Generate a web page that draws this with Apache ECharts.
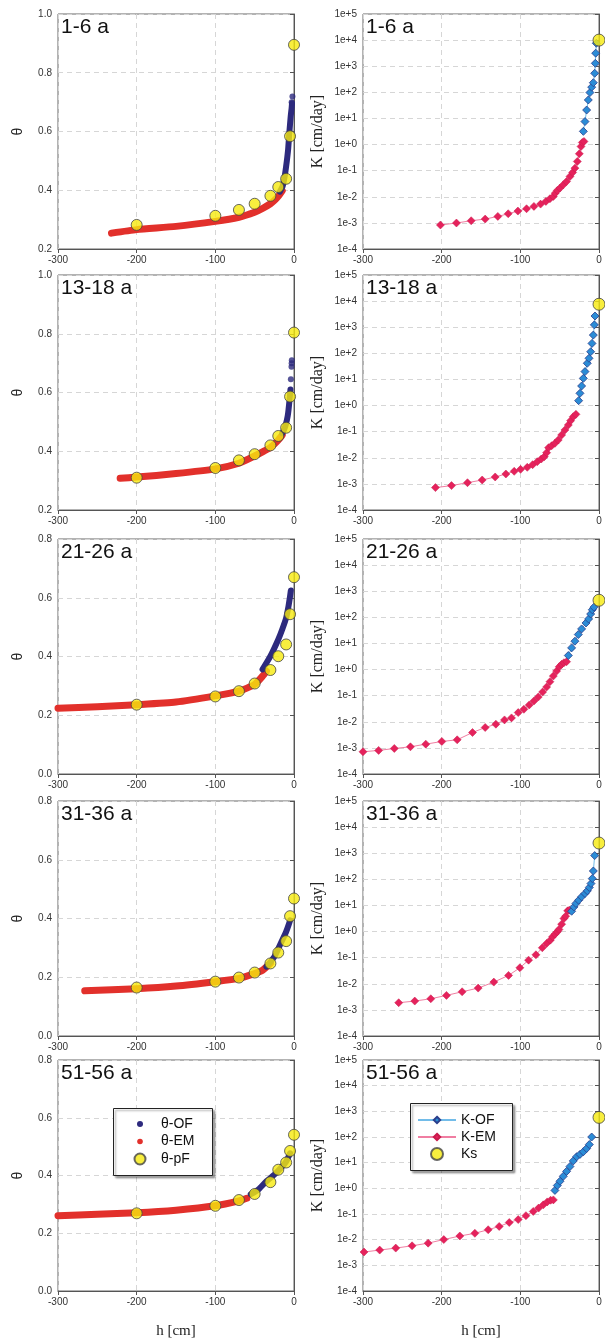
<!DOCTYPE html>
<html>
<head>
<meta charset="utf-8">
<script src="https://cdn.jsdelivr.net/npm/echarts@6/dist/echarts.min.js"></script>
<style>
html,body{margin:0;padding:0;background:#fff;}
#chart{width:605px;height:1340px;}
</style>
</head>
<body>
<div id="chart"></div>
<script>
// ---------- DATA ----------
const panelTitles = ['1-6 a', '13-18 a', '21-26 a', '31-36 a', '51-56 a'];
const xTicks = [-300, -200, -100, 0];
const thetaMin = [0.2, 0.2, 0.0, 0.0, 0.0];
const thetaMax = [1.0, 1.0, 0.8, 0.8, 0.8];

// pressure heads of pF measurements (cm)
const hPF = [-200, -100, -70, -50, -30, -20, -10, -5, 0];

// Panel 1: 1-6 a
const thPF_1 = [0.282, 0.313, 0.333, 0.354, 0.381, 0.411, 0.439, 0.584, 0.895];
const hEM_1 = [-232, -200, -150, -100, -70, -50, -40, -30, -25, -20, -15];
const thEM_1 = [0.254, 0.266, 0.277, 0.294, 0.308, 0.325, 0.338, 0.354, 0.365, 0.379, 0.398];
const hOF_1 = [-18, -14.5, -12, -10, -7.5, -6, -4.2, -3, -2.5];
const thOF_1 = [0.395, 0.413, 0.445, 0.481, 0.538, 0.594, 0.651, 0.680, 0.696];
const hOFdots_1 = [-3, -2];
const thOFdots_1 = [0.700, 0.719];

// Panel 2: 13-18 a
const thPF_2 = [0.310, 0.343, 0.369, 0.390, 0.420, 0.452, 0.480, 0.586, 0.804];
const hEM_2 = [-221, -200, -150, -100, -70, -50, -40, -30, -20, -15];
const thEM_2 = [0.308, 0.312, 0.324, 0.340, 0.359, 0.384, 0.398, 0.413, 0.438, 0.455];
const hOF_2 = [-15, -12, -10, -8, -7, -5.5, -4.5];
const thOF_2 = [0.461, 0.478, 0.495, 0.520, 0.540, 0.580, 0.610];
const hOFdots_2 = [-4, -3.2, -3, -2.8];
const thOFdots_2 = [0.645, 0.688, 0.700, 0.710];

// Panel 3: 21-26 a
const thPF_3 = [0.236, 0.264, 0.282, 0.308, 0.354, 0.401, 0.441, 0.544, 0.670];
const hEM_3 = [-300, -250, -200, -150, -100, -70, -50, -40, -35];
const thEM_3 = [0.224, 0.229, 0.236, 0.245, 0.266, 0.282, 0.305, 0.333, 0.350];
const hOF_3 = [-40, -30, -20, -15, -10, -7, -5, -4];
const thOF_3 = [0.356, 0.401, 0.458, 0.492, 0.531, 0.571, 0.605, 0.625];

// Panel 4: 31-36 a
const thPF_4 = [0.165, 0.185, 0.199, 0.216, 0.247, 0.284, 0.323, 0.408, 0.468];
const hEM_4 = [-266, -200, -150, -100, -70, -50, -40, -30];
const thEM_4 = [0.154, 0.161, 0.170, 0.185, 0.196, 0.213, 0.224, 0.247];
const hOF_4 = [-35, -25, -15, -10, -7, -5];
const thOF_4 = [0.236, 0.270, 0.326, 0.355, 0.377, 0.394];

// Panel 5: 51-56 a
const thPF_5 = [0.269, 0.295, 0.315, 0.336, 0.377, 0.420, 0.445, 0.485, 0.541];
const hEM_5 = [-300, -250, -200, -150, -100, -70, -60];
const thEM_5 = [0.261, 0.266, 0.271, 0.280, 0.295, 0.312, 0.321];
const hOF_5 = [-55, -45, -35, -25, -15, -10, -7, -5];
const thOF_5 = [0.335, 0.352, 0.380, 0.403, 0.431, 0.448, 0.465, 0.477];

// Conductivity K (cm/day)
const hKEM_1 = [-201.6, -181.2, -162.5, -144.7, -128.6, -115.4, -103.1, -92.1, -82.7, -74.3, -67.5, -62.4, -58.1, -55.6, -53, -49.6, -45.4, -41.2, -36.9, -33.5, -30.6, -27.6, -25, -22.9, -21.2, -19.1];
const KEM_1 = [8.3e-4, 9.9e-4, 1.21e-3, 1.40e-3, 1.77e-3, 2.24e-3, 2.84e-3, 3.48e-3, 4.28e-3, 5.25e-3, 6.65e-3, 8.41e-3, 1.03e-2, 1.38e-2, 1.75e-2, 2.15e-2, 2.88e-2, 3.86e-2, 6.01e-2, 8.55e-2, 0.125, 0.225, 0.443, 0.843, 1.20, 1.31];
const hKOF_1 = [-19.9, -17.8, -15.7, -13.6, -11.5, -9.3, -7.2, -5.5, -4.7, -4.2, -3.4];
const KOF_1 = [3.2, 7.6, 21, 51, 98, 158, 234, 537, 1290, 3160, 7590];

const hKEM_2 = [-207.9, -187.5, -167.2, -148.5, -132, -118.4, -107.8, -99.7, -91.2, -84.4, -78.5, -73.4, -69.6, -66.6, -64.1, -60.2, -56, -51.8, -47.5, -43.3, -39, -36.1, -32.7, -29.3];
const KEM_2 = [7.2e-4, 8.6e-4, 1.11e-3, 1.41e-3, 1.84e-3, 2.39e-3, 3.03e-3, 3.61e-3, 4.31e-3, 5.45e-3, 7.10e-3, 8.97e-3, 1.10e-2, 1.57e-2, 2.44e-2, 2.90e-2, 3.57e-2, 4.80e-2, 7.45e-2, 0.116, 0.180, 0.264, 0.375, 0.461];
const hKOF_2 = [-25.9, -24.2, -22.1, -19.9, -17.8, -14.9, -12.7, -10.6, -8.9, -7.2, -5.9, -5.1];
const KOF_2 = [1.54, 2.94, 5.61, 11.0, 20.0, 41.7, 64.6, 115, 240, 501, 1230, 2690];

const hKEM_3 = [-300, -280.1, -260.2, -239.7, -220.2, -199.8, -180.3, -160.8, -144.7, -131.1, -120.1, -111.2, -102.7, -95.5, -88.7, -82.7, -77.2, -71.7, -66.6, -62.4, -58.1, -53.9, -50.5, -47.5, -44.6, -41.2];
const KEM_3 = [7.1e-4, 8.0e-4, 9.5e-4, 1.10e-3, 1.39e-3, 1.76e-3, 2.04e-3, 3.88e-3, 6.03e-3, 8.07e-3, 1.18e-2, 1.41e-2, 2.25e-2, 3.01e-2, 4.41e-2, 6.27e-2, 8.89e-2, 0.138, 0.214, 0.342, 0.562, 0.873, 1.28, 1.58, 1.82, 2.0];
const hKOF_3 = [-39, -34.8, -30.6, -26.3, -22.1, -16.5, -13.2, -10.6, -8.5, -6.4];
const KOF_3 = [3.45, 6.76, 12.2, 21.9, 36.0, 60.8, 86.5, 134, 195, 245];

const hKEM_4 = [-254.6, -234.2, -213.8, -193.9, -174, -153.6, -133.7, -115, -100.6, -89.5, -80.2, -72.1, -66.6, -61.9, -59, -56, -53, -50.9, -47.5, -44.6, -42.4, -39.9, -37.8];
const KEM_4 = [1.88e-3, 2.18e-3, 2.67e-3, 3.59e-3, 4.95e-3, 6.84e-3, 1.16e-2, 2.09e-2, 4.10e-2, 8.05e-2, 0.129, 0.239, 0.350, 0.469, 0.630, 0.796, 0.977, 1.20, 1.92, 3.16, 3.88, 6.21, 6.58];
const hKOF_4 = [-34.8, -31.8, -29.3, -25.9, -22.1, -17.8, -14.8, -12.3, -10.2, -8.5, -7.2, -5.5];
const KOF_4 = [6.0, 8.8, 11.9, 15.8, 21.4, 28.6, 36.3, 49, 69, 107, 209, 813];

const hKEM_5 = [-298.7, -278.8, -258.4, -237.6, -217.2, -197.3, -176.9, -157.8, -140.9, -126.9, -114.1, -102.7, -92.9, -83.6, -76.8, -70.8, -65.8, -61.5, -58];
const KEM_5 = [3.30e-3, 3.94e-3, 4.70e-3, 5.77e-3, 7.31e-3, 1.01e-2, 1.39e-2, 1.77e-2, 2.44e-2, 3.27e-2, 4.66e-2, 6.07e-2, 8.63e-2, 0.126, 0.170, 0.228, 0.296, 0.344, 0.355];
const hKOF_5 = [-56, -53, -49.6, -45.4, -41.2, -36.9, -32.7, -28.4, -24.2, -19.9, -15.7, -12.3, -9.3];
const KOF_5 = [0.83, 1.29, 1.89, 2.94, 4.57, 7.10, 11.7, 17.1, 21.0, 26.6, 35.7, 50.8, 100];

// saturated conductivity at h = 0
const Ks = [10000, 7600, 450, 2450, 580];

// ---------- ASSEMBLY ----------
const zip = (xs, ys) => xs.map((x, i) => [x, ys[i]]);
const thetaPanels = [
  { pf: thPF_1, hem: hEM_1, em: thEM_1, hof: hOF_1, of: thOF_1, hd: hOFdots_1, d: thOFdots_1 },
  { pf: thPF_2, hem: hEM_2, em: thEM_2, hof: hOF_2, of: thOF_2, hd: hOFdots_2, d: thOFdots_2 },
  { pf: thPF_3, hem: hEM_3, em: thEM_3, hof: hOF_3, of: thOF_3, hd: [], d: [] },
  { pf: thPF_4, hem: hEM_4, em: thEM_4, hof: hOF_4, of: thOF_4, hd: [], d: [] },
  { pf: thPF_5, hem: hEM_5, em: thEM_5, hof: hOF_5, of: thOF_5, hd: [], d: [] }
];
const kPanels = [
  { hem: hKEM_1, em: KEM_1, hof: hKOF_1, of: KOF_1 },
  { hem: hKEM_2, em: KEM_2, hof: hKOF_2, of: KOF_2 },
  { hem: hKEM_3, em: KEM_3, hof: hKOF_3, of: KOF_3 },
  { hem: hKEM_4, em: KEM_4, hof: hKOF_4, of: KOF_4 },
  { hem: hKEM_5, em: KEM_5, hof: hKOF_5, of: KOF_5 }
];

const SANS = 'Liberation Sans, Arial, sans-serif';
const SERIF = 'Liberation Serif, Times New Roman, serif';
const gridTops = [14, 275, 539, 801, 1060];
const GL = 58, GR = 363, GW = 236, GH = 235;

const C_OF = '#2d2a7e', C_EM = '#e2302b', C_Y = '#f6ea0e';
const C_KOF = '#2b8cd6', C_KOF_LINE = '#72bce9', C_KEM = '#e5225c', C_KEM_LINE = '#f07ea2';

const grids = [], xAxes = [], yAxes = [], series = [], titles = [];
const splitLineStyle = { show: true, lineStyle: { type: [5, 4], color: '#d6d6d6', width: 1 } };

function makeX(gi, last) {
  const ax = {
    type: 'value', gridIndex: gi, min: -300, max: 0, interval: 100,
    axisLine: { show: true, onZero: false, lineStyle: { color: '#555' } },
    axisTick: { show: true, inside: false, length: 4, lineStyle: { color: '#555' } },
    axisLabel: { fontSize: 10, color: '#333', margin: 6, fontFamily: SANS,
      showMinLabel: true, showMaxLabel: true,
      formatter: v => xTicks.includes(v) ? String(v) : '' },
    splitLine: splitLineStyle
  };
  if (last) {
    ax.name = 'h [cm]';
    ax.nameLocation = 'middle';
    ax.nameGap = 33;
    ax.nameTextStyle = { fontFamily: SERIF, fontSize: 15, color: '#222' };
  }
  return ax;
}

for (let i = 0; i < 5; i++) {
  const top = gridTops[i];
  const last = i === 4;
  grids.push({ left: GL, top: top, width: GW, height: GH, show: true, borderColor: '#666', borderWidth: 1, backgroundColor: 'transparent', containLabel: false });
  grids.push({ left: GR, top: top, width: GW, height: GH, show: true, borderColor: '#666', borderWidth: 1, backgroundColor: 'transparent', containLabel: false });
  const gl = 2 * i, gr = 2 * i + 1;
  xAxes.push(makeX(gl, last));
  xAxes.push(makeX(gr, last));
  yAxes.push({
    type: 'value', gridIndex: gl, min: thetaMin[i], max: thetaMax[i], interval: 0.2,
    name: 'θ', nameLocation: 'middle', nameGap: 33, nameRotate: 90,
    nameTextStyle: { fontFamily: SANS, fontSize: 14, color: '#222' },
    axisLine: { show: true, lineStyle: { color: '#555' } },
    axisTick: { show: true, length: 4, lineStyle: { color: '#555' } },
    axisLabel: { fontSize: 10, color: '#333', margin: 6, fontFamily: SANS, formatter: v => v.toFixed(1) },
    splitLine: splitLineStyle
  });
  yAxes.push({
    type: 'log', logBase: 10, gridIndex: gr, min: 1e-4, max: 1e5, splitNumber: 9,
    name: 'K [cm/day]', nameLocation: 'middle', nameGap: 37, nameRotate: 90,
    nameTextStyle: { fontFamily: SERIF, fontSize: 16, color: '#222' },
    axisLine: { show: true, lineStyle: { color: '#555' } },
    axisTick: { show: true, length: 4, lineStyle: { color: '#555' } },
    axisLabel: { fontSize: 10, color: '#333', margin: 6, fontFamily: SANS,
      formatter: v => { const e = Math.round(Math.log10(v)); return '1e' + (e >= 0 ? '+' : '') + e; } },
    splitLine: splitLineStyle
  });

  const tp = thetaPanels[i];
  series.push({
    name: 'θ-EM', type: 'line', xAxisIndex: gl, yAxisIndex: gl, data: zip(tp.hem, tp.em),
    smooth: 0.2, showSymbol: false, symbol: 'circle',
    itemStyle: { color: C_EM }, lineStyle: { color: C_EM, width: 7, cap: 'round', join: 'round' }, z: 2
  });
  series.push({
    name: 'θ-OF', type: 'line', xAxisIndex: gl, yAxisIndex: gl, data: zip(tp.hof, tp.of),
    smooth: 0.2, showSymbol: false, symbol: 'circle',
    itemStyle: { color: C_OF }, lineStyle: { color: C_OF, width: 6, cap: 'round', join: 'round' }, z: 2
  });
  if (tp.hd.length) {
    series.push({
      name: 'θ-OF', type: 'scatter', xAxisIndex: gl, yAxisIndex: gl, data: zip(tp.hd, tp.d),
      symbol: 'circle', symbolSize: 6, itemStyle: { color: C_OF }, z: 2
    });
  }
  series.push({
    name: 'θ-pF', type: 'scatter', xAxisIndex: gl, yAxisIndex: gl, data: zip(hPF, tp.pf),
    symbol: 'circle', symbolSize: 11, clip: false,
    itemStyle: { color: C_Y, borderColor: '#444', borderWidth: 1 }, z: 4
  });

  const kp = kPanels[i];
  series.push({
    name: 'K-EM', type: 'line', xAxisIndex: gr, yAxisIndex: gr, data: zip(kp.hem, kp.em),
    symbol: 'diamond', symbolSize: 8, showSymbol: true,
    itemStyle: { color: C_KEM, borderColor: '#c81a4c', borderWidth: 0.5 },
    lineStyle: { color: C_KEM_LINE, width: 1 }, z: 2
  });
  series.push({
    name: 'K-OF', type: 'line', xAxisIndex: gr, yAxisIndex: gr, data: zip(kp.hof, kp.of),
    symbol: 'diamond', symbolSize: 8, showSymbol: true,
    itemStyle: { color: C_KOF, borderColor: '#2a3e8c', borderWidth: 0.8 },
    lineStyle: { color: C_KOF_LINE, width: 1 }, z: 3
  });
  series.push({
    name: 'Ks', type: 'scatter', xAxisIndex: gr, yAxisIndex: gr, data: [[0, Ks[i]]],
    symbol: 'circle', symbolSize: 12, clip: false,
    itemStyle: { color: C_Y, borderColor: '#444', borderWidth: 1 }, z: 4
  });

  const tStyle = { fontFamily: SANS, fontSize: 21, fontWeight: 'normal', color: '#111' };
  titles.push({ text: panelTitles[i], left: GL + 3, top: top + 3, padding: 0, textStyle: tStyle });
  titles.push({ text: panelTitles[i], left: GR + 3, top: top + 3, padding: 0, textStyle: tStyle });
}

// legend icons: circles centred in a fixed box (leading move-to points fix the box)
function dotIcon(w, h, r) {
  const cx = w / 2, cy = h / 2;
  return 'path://M0,0 M' + w + ',' + h + ' M' + (cx - r) + ',' + cy +
    ' A' + r + ',' + r + ' 0 1,1 ' + (cx + r) + ',' + cy +
    ' A' + r + ',' + r + ' 0 1,1 ' + (cx - r) + ',' + cy + ' Z';
}
const legTextStyle = { fontFamily: SANS, fontSize: 14, color: '#111', lineHeight: 14 };

const legends = [
  {
    orient: 'vertical', left: 123, top: 1117, padding: 0, itemGap: 3.5,
    itemWidth: 32, itemHeight: 12, selectedMode: false, z: 20, textStyle: legTextStyle,
    symbolKeepAspect: false,
    data: [
      { name: 'θ-OF', icon: dotIcon(32, 12, 3) },
      { name: 'θ-EM', icon: dotIcon(32, 12, 2.8) },
      { name: 'θ-pF', icon: dotIcon(32, 12, 5.5) }
    ]
  },
  {
    orient: 'vertical', left: 417, top: 1113, padding: 0, itemGap: 3,
    itemWidth: 38, itemHeight: 8, selectedMode: false, z: 20, textStyle: legTextStyle,
    data: [{ name: 'K-OF' }, { name: 'K-EM' }]
  },
  {
    orient: 'vertical', left: 417, top: 1147, padding: 0,
    itemWidth: 38, itemHeight: 12, selectedMode: false, z: 20, textStyle: legTextStyle,
    symbolKeepAspect: false,
    data: [{ name: 'Ks', icon: dotIcon(38, 12, 6) }]
  }
];

const boxStyle = { fill: '#fff', stroke: '#222', lineWidth: 1,
  shadowBlur: 2, shadowOffsetX: 2, shadowOffsetY: 2, shadowColor: 'rgba(0,0,0,0.35)' };

const option = {
  animation: false,
  backgroundColor: '#fff',
  title: titles,
  grid: grids,
  xAxis: xAxes,
  yAxis: yAxes,
  legend: legends,
  graphic: [
    { type: 'rect', z: 10, shape: { x: 113.5, y: 1108.5, width: 99, height: 67 }, style: boxStyle },
    { type: 'rect', z: 10, shape: { x: 410.5, y: 1103.5, width: 102, height: 67 }, style: boxStyle }
  ],
  series: series
};

const chart = echarts.init(document.getElementById('chart'), null, { renderer: 'canvas' });
chart.setOption(option);
</script>
</body>
</html>
